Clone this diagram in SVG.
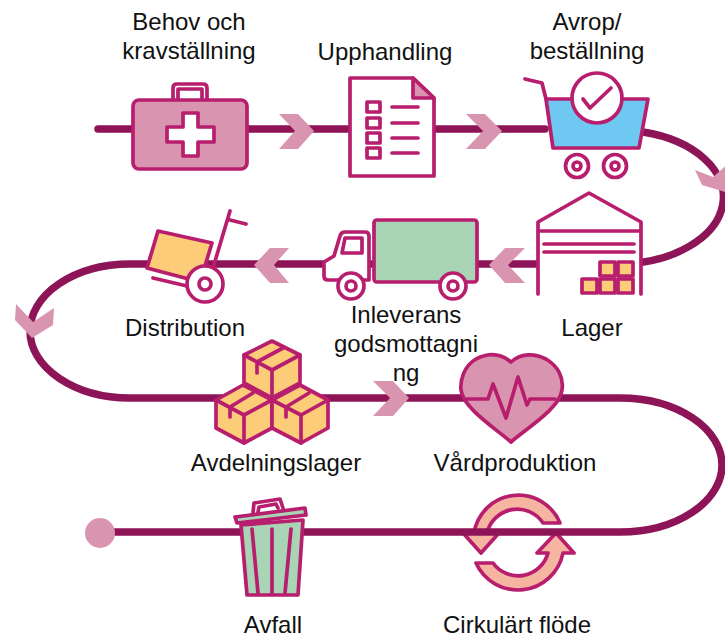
<svg xmlns="http://www.w3.org/2000/svg" width="725" height="639" viewBox="0 0 725 639">
<style>
text{font-family:"Liberation Sans",Arial,sans-serif;font-size:24px;fill:#111;text-anchor:middle}
.i{stroke:#b81e6e;stroke-width:3.7;stroke-linejoin:round;stroke-linecap:round;fill:#fff}
.n{fill:none}
.p{fill:#d995b0}
.o{fill:#fdcc78}
.g{fill:#a9d4b6}
.r{fill:#f5b5a0}
.chev{fill:#d995b0}
</style>
<rect width="725" height="639" fill="#fff"/>
<g id="n-cirkular">
<path class="i r" d="M560,523A45 45 0 0 0 474,533H463L481,553L499,533H487A31 31 0 0 1 543,523Z"/>
<path class="i r" d="M476,563H493A31 31 0 0 0 548,553H537L556,533L574,553H563A46 46 0 0 1 476,563Z"/>
<text x="517" y="633">Cirkulärt flöde</text>
</g>
<g id="connectors">
<path d="M98,129H545M643,132A106 67 0 0 1 620,264H130A100 67 0 0 0 130,398H620A102 67 0 0 1 620,532H100" fill="none" stroke="#8e1458" stroke-width="7.5" stroke-linecap="round"/>
<polygon class="chev" points="279,114 298,114 314,131 298,149 279,149 295,131"/>
<polygon class="chev" points="466,114 485,114 502,131 485,149 466,149 483,131"/>
<polygon class="chev" points="695,170 713,177 728,164 738,180 725,192 702,185"/>
<polygon class="chev" points="525,248 505,248 489,265 505,283 525,283 508,265"/>
<polygon class="chev" points="289,248 270,248 254,265 270,283 289,283 274,265"/>
<polygon class="chev" points="16,304 33,322 54,308 53,325 32,338 15,320"/>
<polygon class="chev" points="373,381 393,381 409,398 393,416 373,416 390,398"/>
<circle cx="100" cy="533" r="15" class="chev"/>
</g>
<g id="n-behov">
<path class="i n" d="M173,100V88Q173,84 177,84H203Q207,84 207,88V100M178,100V89H202V100"/>
<rect class="i p" x="133" y="100" width="114" height="69" rx="6"/>
<path class="i" d="M183,113H198V127H214V142H198V156H183V142H167V127H183Z"/>
<text x="189" y="30">Behov och</text>
<text x="189" y="59">kravställning</text>
</g>
<g id="n-upphandling">
<path class="i" d="M350,78H413L434,98V176H350Z"/>
<path class="i p" d="M413,78L434,98H413Z"/>
<rect class="i" x="367" y="102" width="13" height="10"/>
<rect class="i" x="367" y="118" width="13" height="10"/>
<rect class="i" x="367" y="133" width="13" height="10"/>
<rect class="i" x="367" y="148" width="13" height="10"/>
<path class="i n" d="M392,107H418M392,123H418M392,138H418M392,153H418"/>
<text x="385" y="60">Upphandling</text>
</g>
<g id="n-avrop">
<path class="i n" d="M525,79L542,83L546,99"/>
<polygon class="i" style="fill:#6fc8f2" points="546,99 648,99 639,148 553,148"/>
<circle class="i" cx="597" cy="98" r="25"/>
<path class="i n" d="M583,99L590,108L611,88"/>
<circle class="i" cx="577" cy="166" r="11.5"/><circle class="i" cx="577" cy="166" r="4"/>
<circle class="i" cx="615" cy="166" r="11.5"/><circle class="i" cx="615" cy="166" r="4"/>
<text x="587" y="30">Avrop/</text>
<text x="587" y="59">beställning</text>
</g>
<g id="n-lager">
<path class="i" d="M538,294V222L589,193L641,222V294Z" style="stroke:none"/>
<path class="i n" d="M538,294V222L589,193L641,222V294M538,231H641M544,244H634M544,252H634"/>
<rect class="i o" x="600" y="262" width="15" height="14"/><rect class="i o" x="618" y="262" width="15" height="14"/>
<rect class="i o" x="582" y="279" width="15" height="14"/><rect class="i o" x="600" y="279" width="15" height="14"/><rect class="i o" x="618" y="279" width="15" height="14"/>
<text x="592" y="336">Lager</text>
</g>
<g id="n-inleverans">
<rect class="i g" x="374" y="220" width="103" height="62" rx="3"/>
<path class="i" d="M369,280H328Q324,280 324,276V262L334,256L340,236Q341,232 345,232H365Q369,232 369,236Z"/>
<path class="i" d="M345,238H362V253H342Z"/>
<circle class="i" cx="351" cy="286" r="13"/><circle class="i" cx="351" cy="286" r="5"/>
<circle class="i" cx="453" cy="286" r="13"/><circle class="i" cx="453" cy="286" r="5"/>
<text x="406" y="323">Inleverans</text>
<text x="406" y="352">godsmottagni</text>
<text x="406" y="381">ng</text>
</g>
<g id="n-distribution">
<path class="i n" d="M230,211L213,268M230,220L246,224M153,278L187,286"/>
<path class="i o" d="M158,231L212,243L200,282L147,268Z"/>
<circle class="i" cx="205" cy="284" r="18"/><circle class="i" cx="205" cy="284" r="6"/>
<text x="185" y="336">Distribution</text>
</g>
<g id="n-avdelningslager">
<path class="i o" d="M272,341L300,355V383L272,398L244,383V355Z"/>
<path class="i n" d="M244,355L272,370L300,355M272,370V398M257,373V362L283,348"/>
<path class="i o" d="M243,385L272,400V428L244,443L216,428V400Z"/>
<path class="i n" d="M216,400L244,415L272,400M244,415V443M230,417V407L253,393"/>
<path class="i o" d="M300,385L328,400V428L301,443L272,428V400Z"/>
<path class="i n" d="M272,400L301,415L328,400M301,415V443M286,417V407L309,393"/>
<text x="276" y="471">Avdelningslager</text>
</g>
<g id="n-vard">
<path class="i p" d="M511,362C498,351 484,355 476,359C464,366 460,380 461,390C463,408 495,428 511,442C527,428 560,408 562,390C564,378 558,366 546,359C536,354 522,352 511,362Z"/>
<path class="i n" d="M467,399H488L493,384L506,418L518,377L527,405L530,399H555"/>
<text x="515" y="471">Vårdproduktion</text>
</g>
<g id="n-avfall">
<path class="i g" d="M241,525L303,520L298,595H247Z"/>
<path class="i n" d="M252,529L258,593M272,529V593M291,529L285,593"/>
<path class="i n" d="M253,513L254,503L280,499L283,508M258,512L259,507L276,504L278,508"/>
<polygon class="i g" points="235,517 305,508 306,515 237,523"/>
<text x="273" y="633">Avfall</text>
</g>
</svg>
